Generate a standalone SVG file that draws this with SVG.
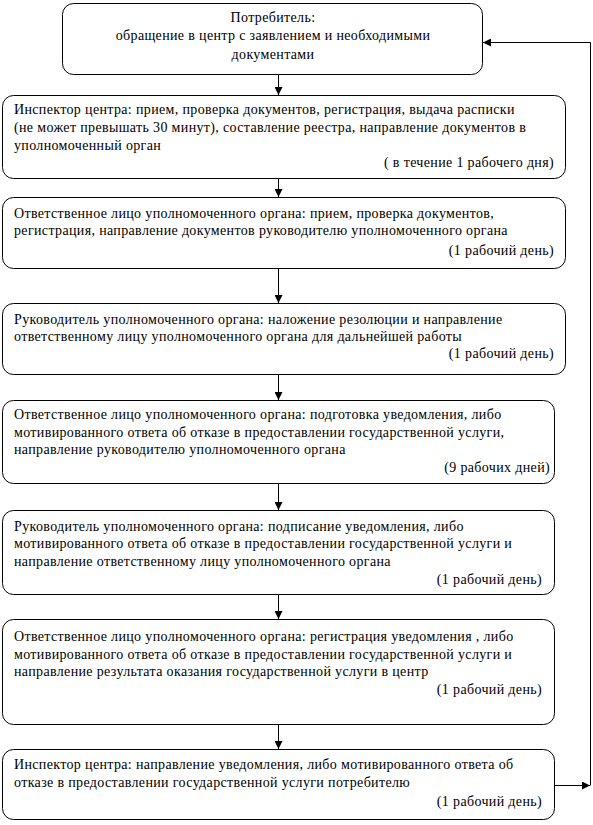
<svg xmlns="http://www.w3.org/2000/svg" width="593" height="825" viewBox="0 0 593 825">
<defs>
<style>
.box{fill:#fff;stroke:#000;stroke-width:1}
text{font-family:"Liberation Serif","Times New Roman",serif;font-size:14px;letter-spacing:0.35px;fill:#000}
.c{text-anchor:middle}
.r{text-anchor:end}
.ln{fill:none;stroke:#000;stroke-width:1}
</style>
<marker id="ah" viewBox="0 0 8 8" refX="8" refY="4" markerWidth="8" markerHeight="8" markerUnits="userSpaceOnUse" orient="auto">
<path d="M0,0 L8,4 L0,8 Z" fill="#000"/>
</marker>
</defs>
<rect width="593" height="825" fill="#fff"/>
<g id="n1">
<rect class="box" x="62.5" y="3.5" width="420" height="71" rx="11"/>
<text class="c" x="273" y="22">Потребитель:</text>
<text class="c" x="273" y="40">обращение в центр с заявлением и необходимыми</text>
<text class="c" x="273" y="59">документами</text>
</g>
<g id="n2">
<rect class="box" x="2.5" y="95.5" width="563" height="83" rx="11"/>
<text x="14" y="114">Инспектор центра: прием, проверка документов, регистрация, выдача расписки</text>
<text x="14" y="132">(не может превышать 30 минут), составление реестра, направление документов в</text>
<text x="14" y="150">уполномоченный орган</text>
<text class="r" x="554" y="167">( в течение 1 рабочего дня)</text>
</g>
<g id="n3">
<rect class="box" x="2.5" y="197.5" width="563" height="71" rx="11"/>
<text x="14" y="218">Ответственное лицо уполномоченного органа: прием, проверка документов,</text>
<text x="14" y="235">регистрация, направление документов руководителю уполномоченного органа</text>
<text class="r" x="554" y="255">(1 рабочий день)</text>
</g>
<g id="n4">
<rect class="box" x="2.5" y="303.5" width="563" height="71" rx="11"/>
<text x="14" y="324">Руководитель уполномоченного органа: наложение резолюции и направление</text>
<text x="14" y="341">ответственному лицу уполномоченного органа для дальнейшей работы</text>
<text class="r" x="554" y="358">(1 рабочий день)</text>
</g>
<g id="n5">
<rect class="box" x="2.5" y="400.5" width="552" height="83" rx="11"/>
<text x="14" y="419">Ответственное лицо уполномоченного органа: подготовка уведомления, либо</text>
<text x="14" y="437">мотивированного ответа об отказе в предоставлении государственной услуги,</text>
<text x="14" y="454">направление руководителю уполномоченного органа</text>
<text class="r" x="550" y="472">(9 рабочих дней)</text>
</g>
<g id="n6">
<rect class="box" x="2.5" y="510.5" width="552" height="84" rx="11"/>
<text x="14" y="531">Руководитель уполномоченного органа: подписание уведомления, либо</text>
<text x="14" y="548">мотивированного ответа об отказе в предоставлении государственной услуги и</text>
<text x="14" y="566">направление ответственному лицу уполномоченного органа</text>
<text class="r" x="542" y="584">(1 рабочий день)</text>
</g>
<g id="n7">
<rect class="box" x="2.5" y="619.5" width="552" height="105" rx="11"/>
<text x="14" y="641">Ответственное лицо уполномоченного органа: регистрация уведомления , либо</text>
<text x="14" y="659">мотивированного ответа об отказе в предоставлении государственной услуги и</text>
<text x="14" y="676">направление результата оказания государственной услуги в центр</text>
<text class="r" x="542" y="694">(1 рабочий день)</text>
</g>
<g id="n8">
<rect class="box" x="2.5" y="749.5" width="552" height="70" rx="11"/>
<text x="14" y="769">Инспектор центра: направление уведомления, либо мотивированного ответа об</text>
<text x="14" y="787">отказе в предоставлении государственной услуги потребителю</text>
<text class="r" x="542" y="806">(1 рабочий день)</text>
</g>
<g id="connectors">
<line class="ln" x1="278.5" y1="75" x2="278.5" y2="95" marker-end="url(#ah)"/>
<line class="ln" x1="278.5" y1="179" x2="278.5" y2="197" marker-end="url(#ah)"/>
<line class="ln" x1="278.5" y1="269" x2="278.5" y2="303" marker-end="url(#ah)"/>
<line class="ln" x1="278.5" y1="375" x2="278.5" y2="400" marker-end="url(#ah)"/>
<line class="ln" x1="278.5" y1="484" x2="278.5" y2="510" marker-end="url(#ah)"/>
<line class="ln" x1="278.5" y1="595" x2="278.5" y2="619" marker-end="url(#ah)"/>
<line class="ln" x1="278.5" y1="725" x2="278.5" y2="749" marker-end="url(#ah)"/>
<line class="ln" x1="555" y1="785.5" x2="590" y2="785.5" marker-end="url(#ah)"/>
<polyline class="ln" points="590.5,785.5 590.5,42.5 483,42.5" marker-end="url(#ah)"/>
</g>
</svg>
